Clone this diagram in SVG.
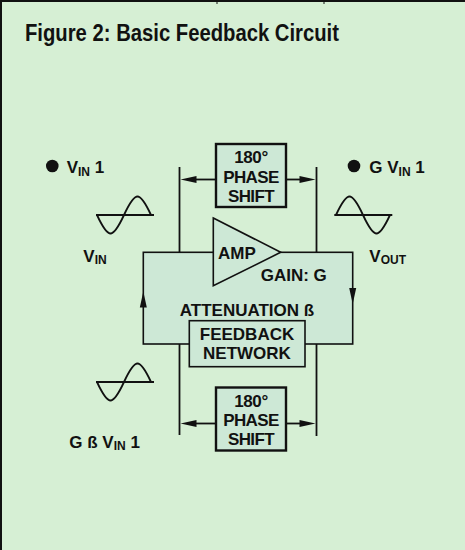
<svg xmlns="http://www.w3.org/2000/svg" width="465" height="550" viewBox="0 0 465 550">
<style>
.t{font-family:"Liberation Sans",Arial,Helvetica,sans-serif;font-weight:bold;font-size:17px;fill:#111}
.c{text-anchor:middle}
.ln{stroke:#111;stroke-width:1.8;fill:none}
.box{fill:#cde8d6;stroke:#111;stroke-width:1.6}
.pbox{fill:#cde8d6;stroke:#111;stroke-width:2.4}
.sine{stroke:#111;stroke-width:1.8;fill:none}
.ah{fill:#111}
</style>
<defs>
<path id="ahL" class="ah" d="M0,0 L16,-3.5 L16,3.5 Z"/>
</defs>
<rect x="0" y="0" width="465" height="550" fill="#d6efd4"/>
<g id="frame">
<line x1="0" y1="1" x2="465" y2="1" stroke="#111" stroke-width="2"/>
<line x1="1" y1="0" x2="1" y2="550" stroke="#111" stroke-width="2"/>
<line x1="217" y1="0" x2="217" y2="4" stroke="#111" stroke-width="1"/>
<line x1="324" y1="0" x2="324" y2="4" stroke="#111" stroke-width="1"/>
</g>
<text id="title" class="t" x="25" y="40.7" font-size="23" textLength="314" lengthAdjust="spacingAndGlyphs" style="font-size:23px">Figure 2: Basic Feedback Circuit</text>

<g id="connectors">
<!-- top phase shift arrows and vertical lines -->
<line class="ln" x1="179.5" y1="167" x2="179.5" y2="252.5"/>
<line class="ln" x1="316.5" y1="167" x2="316.5" y2="252.5"/>
<line class="ln" x1="194" y1="179.5" x2="216" y2="179.5"/>
<line class="ln" x1="286" y1="179.5" x2="302" y2="179.5"/>
<use href="#ahL" transform="translate(180.5,179.5)"/>
<use href="#ahL" transform="translate(315.5,179.5) rotate(180)"/>
<!-- bottom -->
<line class="ln" x1="179.5" y1="344" x2="179.5" y2="435"/>
<line class="ln" x1="316.5" y1="344" x2="316.5" y2="436"/>
<line class="ln" x1="194" y1="423.5" x2="216" y2="423.5"/>
<line class="ln" x1="286" y1="423.5" x2="302" y2="423.5"/>
<use href="#ahL" transform="translate(180.5,423.5)"/>
<use href="#ahL" transform="translate(315.5,423.5) rotate(180)"/>
</g>

<g id="loop">
<rect class="box" x="143.3" y="252.3" width="209.4" height="91.7"/>
<use href="#ahL" transform="translate(143.3,291.5) rotate(90)"/>
<use href="#ahL" transform="translate(352.7,304) rotate(-90)"/>
<text class="t c" x="247" y="316">ATTENUATION ß</text>
</g>

<g id="amp">
<polygon class="box" points="213.3,218 280.7,252.3 213.3,285.7"/>
<text class="t" x="218" y="259">AMP</text>
<text class="t" x="260.7" y="281">GAIN: G</text>
</g>

<g id="feedback">
<rect class="box" x="189.3" y="320.7" width="115.7" height="46" stroke-width="2"/>
<text class="t c" x="247" y="339.5">FEEDBACK</text>
<text class="t c" x="247" y="358.5">NETWORK</text>
</g>

<g id="phase-top">
<rect class="pbox" x="216" y="144" width="70" height="63"/>
<text class="t c" x="251" y="163" letter-spacing="-0.4">180°</text>
<text class="t c" x="251" y="182.5" letter-spacing="-0.6">PHASE</text>
<text class="t c" x="251" y="201.5" letter-spacing="-0.6">SHIFT</text>
</g>

<g id="phase-bottom">
<rect class="pbox" x="216" y="387.5" width="70" height="63"/>
<text class="t c" x="251" y="406.5" letter-spacing="-0.4">180°</text>
<text class="t c" x="251" y="426" letter-spacing="-0.6">PHASE</text>
<text class="t c" x="251" y="445" letter-spacing="-0.6">SHIFT</text>
</g>

<g id="vin">
<circle cx="52.3" cy="166" r="6.3" fill="#111"/>
<text class="t" x="66.7" y="173.3">V<tspan font-size="12" dy="2.5">IN</tspan><tspan dy="-2.5"> 1</tspan></text>
<line class="ln" x1="96" y1="215" x2="154" y2="215"/>
<path class="sine" d="M97,215 C101.4,224.5 106.2,233.5 110.5,233.5 C114.8,233.5 119.6,224.5 124,215 C128.4,205.5 133.2,196.5 137.5,196.5 C141.8,196.5 146.6,205.5 151,215"/>
<text class="t" x="83.3" y="261.7">V<tspan font-size="12" dy="2.5">IN</tspan></text>
</g>

<g id="vout">
<circle cx="354" cy="166" r="6.3" fill="#111"/>
<text class="t" x="369.3" y="173.3">G V<tspan font-size="12" dy="2.5">IN</tspan><tspan dy="-2.5"> 1</tspan></text>
<line class="ln" x1="334.3" y1="215" x2="392.3" y2="215"/>
<path class="sine" d="M336,215 C340.4,205.5 345.2,196.5 349.5,196.5 C353.8,196.5 358.6,205.5 363,215 C367.4,224.5 372.2,233.5 376.5,233.5 C380.8,233.5 385.6,224.5 390,215"/>
<text class="t" x="369.3" y="261.7">V<tspan font-size="12" dy="2.5">OUT</tspan></text>
</g>

<g id="vfb">
<line class="ln" x1="96" y1="382" x2="154" y2="382"/>
<path class="sine" d="M97,382 C101.4,391.5 106.2,400.5 110.5,400.5 C114.8,400.5 119.6,391.5 124,382 C128.4,372.5 133.2,363.5 137.5,363.5 C141.8,363.5 146.6,372.5 151,382"/>
<text class="t" x="69.3" y="447.7">G ß V<tspan font-size="12" dy="2.5">IN</tspan><tspan dy="-2.5"> 1</tspan></text>
</g>
</svg>
